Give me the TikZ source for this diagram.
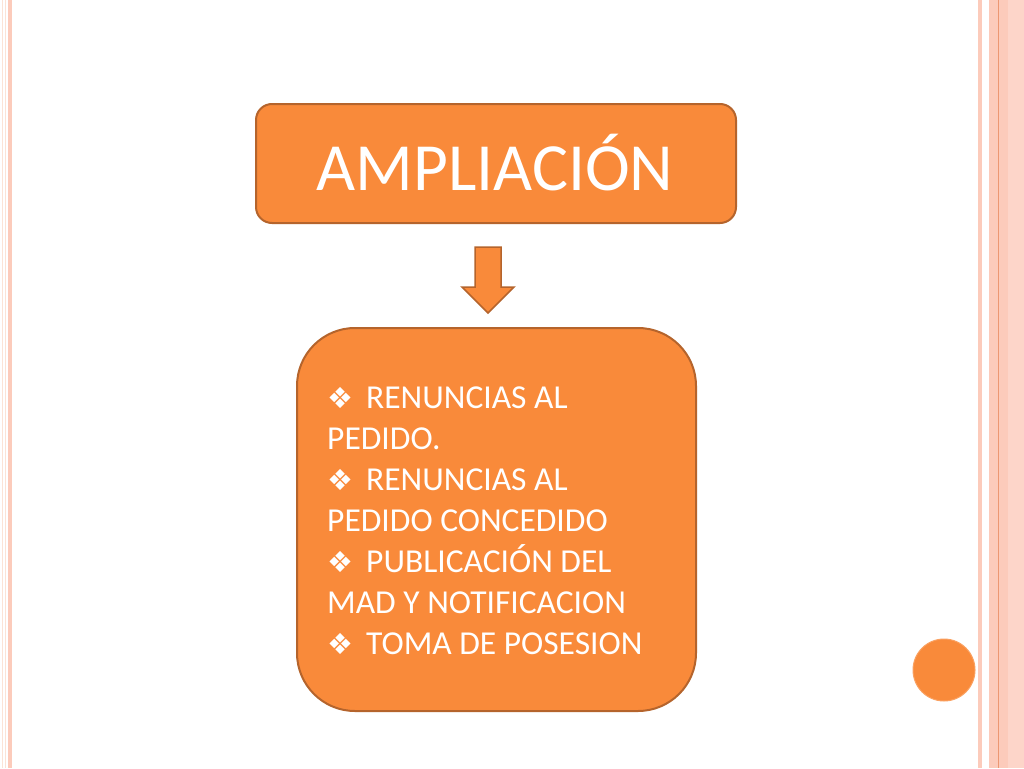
\documentclass[tikz,border=0pt]{standalone}
\usepackage{fontspec}
\setmainfont{Carlito}
\newfontfamily\symfont{DejaVu Sans}
\definecolor{orfill}{HTML}{F98A3A}
\definecolor{ordraw}{HTML}{B5642C}
\definecolor{pinkS}{HTML}{FCCBBB}
\definecolor{paleS}{HTML}{FBE3D6}
\definecolor{darkS}{HTML}{EC9772}
\tikzset{
  stripe/.style={fill=#1, draw=none},
  orbox/.style={fill=orfill, draw=ordraw, line width=2pt},
  listline/.style={anchor=base west, inner sep=0pt, text=white, font=\fontsize{33.5}{41}\selectfont},
}
\newcommand{\bul}{{\symfont\fontsize{29}{29}\selectfont ❖}\hspace{13pt}}
\begin{document}
\begin{tikzpicture}[x=1pt,y=-1pt]
\useasboundingbox (0,0) rectangle (1024,768);
\fill[white] (0,0) rectangle (1024,768);
% left stripes
\fill[stripe=paleS] (1.5,0) rectangle (3,768);
\fill[stripe=paleS] (4.5,0) rectangle (6,768);
\fill[stripe=pinkS] (8,0) rectangle (12,768);
% right stripes
\fill[stripe=pinkS] (978,0) rectangle (982,768);
\fill[stripe=pinkS] (989,0) rectangle (1008,768);
\fill[stripe=darkS] (997.5,0) rectangle (999,768);
\fill[stripe=pinkS!80!white] (1008,0) rectangle (1024,768);
% top box
\draw[orbox, rounded corners=16pt] (256,104) rectangle (736,223);
\node[text=white, font=\fontsize{67.5}{67.5}\selectfont, inner sep=0pt, anchor=base] (title) at (495,190) {AMPLIACIÓN};
% arrow
\draw[orbox, line width=1.5pt, line join=miter] (475,247) -- (501,247) -- (501,287) -- (514,287) -- (488,313) -- (462,287) -- (475,287) -- cycle;
% bottom box
\draw[orbox, rounded corners=58pt] (297,328) rectangle (696,711);
\node[listline] (l1) at (327,408) {\bul RENUNCIAS AL};
\node[listline] (l2) at (327,449) {PEDIDO.};
\node[listline] (l3) at (327,490) {\bul RENUNCIAS AL};
\node[listline] (l4) at (327,531) {PEDIDO CONCEDIDO};
\node[listline] (l5) at (327,572) {\bul PUBLICACIÓN DEL};
\node[listline] (l6) at (327,613) {MAD Y NOTIFICACION};
\node[listline] (l7) at (327,654) {\bul TOMA DE POSESION};
% circle
\draw[fill=orfill, draw=orfill!80!white, line width=1pt] (944,670) circle (31);
\end{tikzpicture}
\end{document}
